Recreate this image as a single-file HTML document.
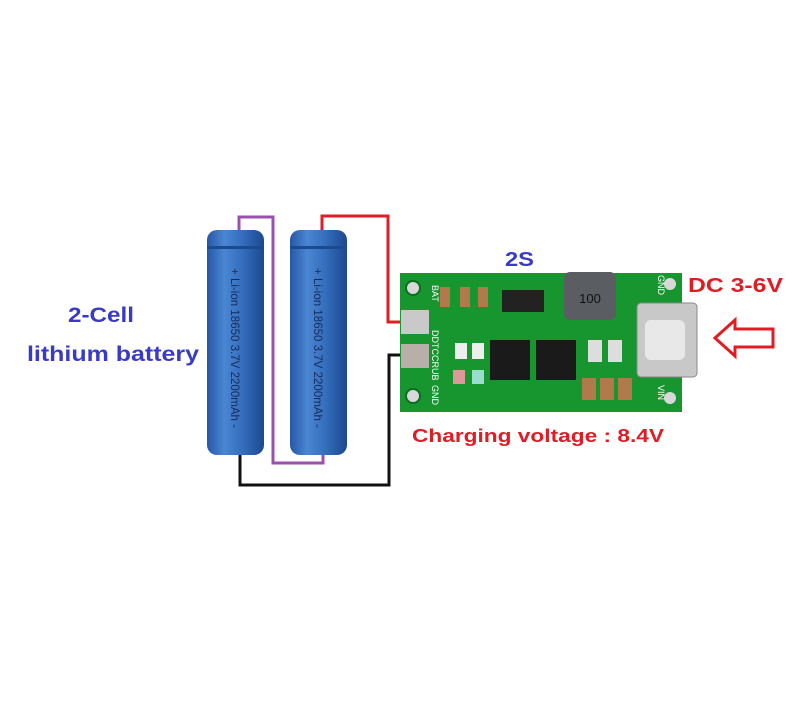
<!DOCTYPE html>
<html><head><style>body{margin:0;background:#fff}svg{display:block}</style></head><body>
<svg width="800" height="701" viewBox="0 0 800 701" xmlns="http://www.w3.org/2000/svg" font-family="Liberation Sans, sans-serif">
<defs>
<linearGradient id="bat" x1="0" x2="1" y1="0" y2="0">
<stop offset="0" stop-color="#2757a6"/><stop offset="0.3" stop-color="#4a86d2"/><stop offset="0.6" stop-color="#3570bf"/><stop offset="1" stop-color="#1d4890"/>
</linearGradient>
</defs>
<polyline points="239,230 239,217 273,217 273,463 323,463 323,455" fill="none" stroke="#9b4fae" stroke-width="3"/>
<polyline points="322,230 322,216 388,216 388,322 410,322" fill="none" stroke="#e01c24" stroke-width="3"/>
<polyline points="240,455 240,485 389,485 389,355 410,355" fill="none" stroke="#111" stroke-width="3"/>
<g>
<rect x="207" y="230" width="57" height="225" rx="10" fill="url(#bat)"/>
<rect x="207" y="246" width="57" height="3" fill="#1c4a8f"/>
<text transform="translate(231,268) rotate(90)" font-size="12" fill="#1a2a55" textLength="160" lengthAdjust="spacingAndGlyphs">+ Li-ion 18650 3.7V 2200mAh -</text>
<rect x="290" y="230" width="57" height="225" rx="10" fill="url(#bat)"/>
<rect x="290" y="246" width="57" height="3" fill="#1c4a8f"/>
<text transform="translate(314,268) rotate(90)" font-size="12" fill="#1a2a55" textLength="160" lengthAdjust="spacingAndGlyphs">+ Li-ion 18650 3.7V 2200mAh -</text>
</g>
<rect x="400" y="273" width="282" height="139" fill="#17962f"/>
<circle cx="413" cy="288" r="7" fill="#d8d8d8" stroke="#0d6e20" stroke-width="2"/>
<circle cx="413" cy="396" r="7" fill="#d8d8d8" stroke="#0d6e20" stroke-width="2"/>
<circle cx="670" cy="284" r="6" fill="#d8d8d8"/>
<circle cx="670" cy="398" r="6" fill="#d8d8d8"/>
<rect x="401" y="310" width="28" height="24" fill="#c9c9c9"/>
<rect x="401" y="344" width="28" height="24" fill="#b8b0a8"/>
<rect x="440" y="287" width="10" height="20" fill="#b07a4a"/>
<rect x="460" y="287" width="10" height="20" fill="#b07a4a"/>
<rect x="478" y="287" width="10" height="20" fill="#b07a4a"/>
<rect x="502" y="290" width="42" height="22" fill="#222"/>
<rect x="564" y="272" width="52" height="48" rx="6" fill="#5a5e62"/>
<text x="590" y="303" font-size="13" text-anchor="middle" fill="#111">100</text>
<rect x="490" y="340" width="40" height="40" fill="#1a1a1a"/>
<rect x="536" y="340" width="40" height="40" fill="#1a1a1a"/>
<rect x="455" y="343" width="12" height="16" fill="#eee"/>
<rect x="472" y="343" width="12" height="16" fill="#eee"/>
<rect x="453" y="370" width="12" height="14" fill="#d99"/>
<rect x="472" y="370" width="12" height="14" fill="#9dc"/>
<rect x="588" y="340" width="14" height="22" fill="#ddd"/>
<rect x="608" y="340" width="14" height="22" fill="#ddd"/>
<rect x="582" y="378" width="14" height="22" fill="#b07a4a"/>
<rect x="600" y="378" width="14" height="22" fill="#b07a4a"/>
<rect x="618" y="378" width="14" height="22" fill="#b07a4a"/>
<rect x="637" y="303" width="60" height="74" rx="4" fill="#c8c8c8" stroke="#888"/>
<rect x="645" y="320" width="40" height="40" rx="6" fill="#e8e8e8"/>
<text transform="translate(432,285) rotate(90)" font-size="9" fill="#fff">BAT</text>
<text transform="translate(432,330) rotate(90)" font-size="9" fill="#fff">DDTCCRUB</text>
<text transform="translate(432,385) rotate(90)" font-size="9" fill="#fff">GND</text>
<text transform="translate(658,275) rotate(90)" font-size="9" fill="#fff">GND</text>
<text transform="translate(658,385) rotate(90)" font-size="9" fill="#fff">VIN</text>
<path d="M715,338 L735,320 L735,329 L773,329 L773,347 L735,347 L735,356 Z" fill="#fff" stroke="#e01c24" stroke-width="3"/>
<text x="505" y="266" font-size="20" font-weight="bold" fill="#3a3ac8" textLength="29" lengthAdjust="spacingAndGlyphs">2S</text>
<text x="688" y="292" font-size="20" font-weight="bold" fill="#e01c24" textLength="95" lengthAdjust="spacingAndGlyphs">DC 3-6V</text>
<text x="412" y="442" font-size="18" font-weight="bold" fill="#e01c24" textLength="252" lengthAdjust="spacingAndGlyphs">Charging voltage : 8.4V</text>
<text x="68" y="322" font-size="21" font-weight="bold" fill="#3a3ac8" textLength="66" lengthAdjust="spacingAndGlyphs">2-Cell</text>
<text x="27" y="361" font-size="21" font-weight="bold" fill="#3a3ac8" textLength="172" lengthAdjust="spacingAndGlyphs">lithium battery</text>
</svg>
</body></html>
